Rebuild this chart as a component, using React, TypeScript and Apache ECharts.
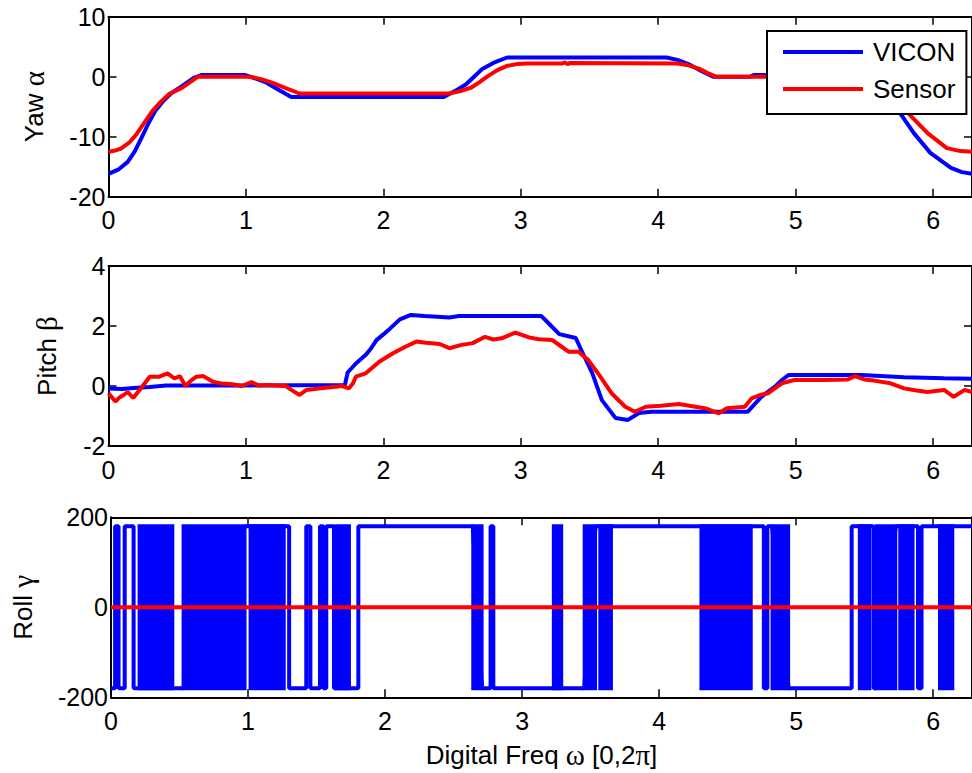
import React, { useEffect, useRef } from 'react';
import * as echarts from 'echarts';

const X_MAX = 2 * Math.PI;
const xTickValues = [0, 1, 2, 3, 4, 5, 6];

// Yaw (alpha)
const yawVicon: [number, number][] = [
  [0, -16.2], [0.07, -15.5], [0.14, -14.2], [0.19, -12.5], [0.24, -10.2], [0.29, -7.8], [0.34, -5.7],
  [0.4, -4.0], [0.46, -2.7], [0.54, -1.5], [0.62, -0.2], [0.68, 0.3], [0.99, 0.3], [1.07, -0.3],
  [1.15, -1.0], [1.24, -2.2], [1.33, -3.4], [2.44, -3.4], [2.52, -2.4], [2.6, -1.3], [2.66, 0],
  [2.72, 1.3], [2.8, 2.3], [2.9, 3.2], [4.06, 3.2], [4.14, 2.8], [4.22, 2.1], [4.31, 1.0], [4.4, 0],
  [4.67, 0], [4.7, 0.3], [5.45, 0.3], [5.55, -1.5], [5.65, -3.8], [5.77, -6.4], [5.86, -9.4],
  [5.98, -12.7], [6.13, -15.2], [6.21, -15.9], [6.283, -16.2],
];
const yawSensor: [number, number][] = [
  [0, -12.5], [0.05, -12.3], [0.09, -12.0], [0.15, -11.0], [0.2, -9.7], [0.26, -7.7], [0.32, -5.7],
  [0.38, -4.2], [0.44, -2.9], [0.54, -1.8], [0.6, -0.8], [0.65, 0], [1.03, 0], [1.11, -0.4],
  [1.19, -1.0], [1.29, -1.9], [1.39, -2.8], [2.48, -2.8], [2.56, -2.4], [2.64, -1.8], [2.7, -0.9],
  [2.76, 0.1], [2.83, 1.1], [2.9, 1.8], [2.97, 2.1], [3.05, 2.2], [3.3, 2.2], [3.32, 2.4], [3.34, 2.1],
  [3.36, 2.3], [4.14, 2.2], [4.22, 1.9],
  [4.3, 1.3], [4.36, 0.6], [4.42, 0], [5.5, 0], [5.6, -1.6], [5.7, -3.8], [5.82, -6.1], [5.96, -9.4],
  [6.1, -11.9], [6.2, -12.4], [6.283, -12.5],
];

// Pitch (beta)
const pitchVicon: [number, number][] = [
  [0, -0.08], [0.1, -0.1], [0.18, -0.07], [0.3, -0.03], [0.42, 0.02], [1.0, 0.02], [1.72, 0.03],
  [1.74, 0.45], [1.77, 0.6], [1.8, 0.75], [1.87, 1.03], [1.91, 1.25], [1.95, 1.53], [2.0, 1.72],
  [2.05, 1.92], [2.12, 2.22], [2.2, 2.37], [2.3, 2.33], [2.48, 2.28], [2.55, 2.33], [3.15, 2.33],
  [3.2, 2.1], [3.28, 1.73], [3.4, 1.6], [3.44, 1.2], [3.52, 0.43], [3.59, -0.47], [3.69, -1.07],
  [3.78, -1.13], [3.86, -0.9], [3.95, -0.86], [4.65, -0.86], [4.75, -0.36], [4.85, -0.02],
  [4.9, 0.2], [4.95, 0.37], [5.48, 0.37], [5.79, 0.29], [6.08, 0.26], [6.283, 0.24],
];
const pitchSensor: [number, number][] = [
  [0, -0.24], [0.05, -0.52], [0.08, -0.38], [0.11, -0.3], [0.14, -0.2], [0.18, -0.4], [0.24, -0.05],
  [0.3, 0.31], [0.37, 0.31], [0.43, 0.42], [0.48, 0.25], [0.52, 0.33], [0.56, 0.0], [0.6, 0.18],
  [0.64, 0.31], [0.69, 0.33], [0.76, 0.14], [0.83, 0.08], [0.9, 0.06], [0.97, 0.0], [1.04, 0.13],
  [1.09, 0.02], [1.14, 0.03], [1.29, 0.0], [1.33, -0.13], [1.39, -0.3], [1.44, -0.13], [1.53, -0.08],
  [1.7, 0.0], [1.75, -0.08], [1.78, 0.1], [1.8, 0.31], [1.87, 0.42], [1.97, 0.81], [2.07, 1.09],
  [2.16, 1.31], [2.24, 1.48], [2.31, 1.44], [2.41, 1.4], [2.48, 1.26], [2.57, 1.37], [2.65, 1.43],
  [2.74, 1.64], [2.8, 1.55], [2.86, 1.59], [2.96, 1.78], [3.06, 1.62], [3.13, 1.56], [3.23, 1.53],
  [3.3, 1.3], [3.35, 1.14], [3.42, 1.14], [3.49, 0.87], [3.57, 0.37], [3.66, -0.24], [3.76, -0.69],
  [3.83, -0.86], [3.91, -0.69], [4.02, -0.66], [4.15, -0.6], [4.27, -0.69], [4.35, -0.75],
  [4.44, -0.91], [4.5, -0.74], [4.63, -0.69], [4.68, -0.41], [4.74, -0.3], [4.8, -0.24], [4.9, 0.09],
  [4.99, 0.2], [5.2, 0.2], [5.38, 0.22], [5.43, 0.33], [5.5, 0.22], [5.57, 0.18], [5.69, 0.09],
  [5.79, -0.08], [5.88, -0.15], [5.96, -0.2], [6.08, -0.13], [6.15, -0.36], [6.23, -0.13], [6.283, -0.2],
];

// Roll (gamma): VICON wraps between +180 and -180.
// H = held at +180, L = held at -180, D = rapid switching band
const ROLL_HIGH = 180;
const ROLL_LOW = -180;
const rollSegments: [number, number, string][] = [
  [0, 0.03, 'L'], [0.03, 0.055, 'H'], [0.055, 0.1, 'L'], [0.1, 0.165, 'H'], [0.165, 0.205, 'L'],
  [0.205, 0.451, 'D'], [0.451, 0.526, 'L'], [0.526, 0.978, 'D'], [0.978, 1.015, 'H'],
  [1.015, 1.264, 'D'], [1.264, 1.3, 'H'], [1.3, 1.425, 'L'], [1.425, 1.455, 'H'], [1.455, 1.525, 'L'],
  [1.525, 1.55, 'H'], [1.55, 1.571, 'L'], [1.571, 1.627, 'H'], [1.627, 1.644, 'L'],
  [1.644, 1.74, 'D'], [1.74, 1.805, 'L'], [1.805, 2.64, 'H'], [2.64, 2.708, 'D'], [2.708, 2.77, 'L'],
  [2.77, 2.79, 'H'], [2.79, 3.228, 'L'], [3.228, 3.289, 'D'], [3.289, 3.453, 'L'],
  [3.453, 3.536, 'D'], [3.536, 3.567, 'H'], [3.567, 3.652, 'D'], [3.652, 4.305, 'H'],
  [4.305, 4.672, 'D'], [4.672, 4.764, 'H'], [4.764, 4.79, 'L'], [4.79, 4.824, 'H'],
  [4.824, 4.945, 'D'], [4.945, 5.405, 'L'], [5.405, 5.461, 'H'], [5.461, 5.538, 'D'],
  [5.538, 5.565, 'H'], [5.565, 5.585, 'L'], [5.585, 5.727, 'D'], [5.727, 5.756, 'H'],
  [5.756, 5.853, 'D'], [5.853, 5.889, 'H'], [5.889, 5.915, 'L'], [5.915, 6.046, 'H'],
  [6.046, 6.143, 'D'], [6.143, 6.283, 'H'],
];
const rollSensor: [number, number][] = [[0, 0], [6.283, 0]];

const yRanges = [
  { min: -20, max: 10, interval: 10 },
  { min: -2, max: 4, interval: 2 },
  { min: -200, max: 200, interval: 200 },
];
const yNames = ['Yaw {g|α}', 'Pitch {g|β}', 'Roll {g|γ}'];
const legendNames = ['VICON', 'Sensor'];

const BLUE = '#0000ff';
const RED = '#ff0000';
const FONT = 'Liberation Sans, Arial, sans-serif';
const SERIF = 'Liberation Serif, DejaVu Serif, serif';

export default function App() {
  const ref = useRef<HTMLDivElement>(null);
  useEffect(() => {
    if (!ref.current) return;
    const chart = echarts.init(ref.current, undefined, { renderer: 'svg' });
    const gridTops = [16.7, 266, 517.3];
    const nameGaps = [60, 47, 74];
    const LW = 4;

    const rollViconLine: [number, number][] = [];
    rollSegments.forEach(([a, b, k]) => {
      if (k === 'H') { rollViconLine.push([a, ROLL_HIGH], [b, ROLL_HIGH]); }
      if (k === 'L') { rollViconLine.push([a, ROLL_LOW], [b, ROLL_LOW]); }
    });
    const rollDense = rollSegments.filter((s) => s[2] === 'D').map(([a, b]) => [a, b, ROLL_HIGH, ROLL_LOW]);

    const axisLine = { show: true, onZero: false, lineStyle: { color: '#000', width: 2 } };
    const axisTick = { show: true, inside: true, length: 8, lineStyle: { color: '#000', width: 1.5 } };
    const nameStyle = {
      fontSize: 26, fontFamily: FONT, color: '#000',
      rich: { g: { fontSize: 29, fontFamily: SERIF, color: '#000' } },
    };

    const xAxis: any[] = [];
    const yAxis: any[] = [];
    gridTops.forEach((_, i) => {
      xAxis.push({
        gridIndex: i, type: 'value', position: 'bottom', min: 0, max: X_MAX, interval: 1,
        axisLine, axisTick, splitLine: { show: false },
        axisLabel: {
          show: true, margin: 11, fontSize: 25, fontFamily: FONT, color: '#000', showMaxLabel: false,
          formatter: (v: number) => (xTickValues.includes(v) ? String(v) : ''),
        },
        ...(i === 2 ? {
          name: 'Digital Freq {g|ω} [0,2{g|π}]', nameLocation: 'middle', nameGap: 43,
          nameTextStyle: nameStyle,
        } : {}),
      });
      xAxis.push({
        gridIndex: i, type: 'value', position: 'top', min: 0, max: X_MAX, interval: 1,
        axisLine, axisTick, splitLine: { show: false }, axisLabel: { show: false },
      });
      yAxis.push({
        gridIndex: i, type: 'value', position: 'left', ...yRanges[i],
        axisLine, axisTick, splitLine: { show: false },
        axisLabel: { margin: 3, fontSize: 25, fontFamily: FONT, color: '#000' },
        name: yNames[i], nameLocation: 'middle', nameRotate: 90, nameGap: nameGaps[i],
        nameTextStyle: nameStyle,
      });
      yAxis.push({
        gridIndex: i, type: 'value', position: 'right', ...yRanges[i],
        axisLine, axisTick, splitLine: { show: false }, axisLabel: { show: false },
      });
    });

    const lineSeries = (name: string, color: string, data: any, idx: number, z = 2) => ({
      type: 'line', name, data, xAxisIndex: idx * 2, yAxisIndex: idx * 2, symbol: 'none',
      lineStyle: { color, width: LW }, itemStyle: { color }, z, clip: true,
    });

    chart.setOption({
      animation: false,
      backgroundColor: '#fff',
      grid: gridTops.map((t) => ({ left: 108.5, top: t, width: 865.8, height: 180, show: false })),
      xAxis,
      yAxis,
      legend: {
        data: legendNames, orient: 'vertical', left: 767, top: 31,
        icon: 'rect', itemWidth: 80, itemHeight: 4, itemGap: 11,
        padding: [8, 11, 12, 16],
        borderColor: '#000', borderWidth: 2, backgroundColor: '#fff',
        textStyle: { fontSize: 26, fontFamily: FONT, color: '#000', padding: [0, 0, 0, 5] },
        z: 10,
      },
      series: [
        lineSeries('VICON', BLUE, yawVicon, 0),
        lineSeries('Sensor', RED, yawSensor, 0, 3),
        lineSeries('VICON', BLUE, pitchVicon, 1),
        lineSeries('Sensor', RED, pitchSensor, 1, 3),
        lineSeries('VICON', BLUE, rollViconLine, 2),
        {
          type: 'custom', name: 'VICON band', xAxisIndex: 4, yAxisIndex: 4, data: rollDense,
          encode: { x: [0, 1], y: [2, 3] }, z: 3, clip: true,
          renderItem: (_p: any, api: any) => {
            const p0 = api.coord([api.value(0), api.value(2)]);
            const p1 = api.coord([api.value(1), api.value(3)]);
            return {
              type: 'rect',
              shape: { x: p0[0] - 1.5, y: p0[1] - LW / 2, width: p1[0] - p0[0] + 3, height: p1[1] - p0[1] + LW },
              style: { fill: BLUE },
            };
          },
        },
        lineSeries('Sensor', RED, rollSensor, 2, 4),
      ],
    });
    return () => chart.dispose();
  }, []);
  return <div ref={ref} style={{ position: 'fixed', left: 0, top: 0, width: 972, height: 773, background: '#fff' }} />;
}
